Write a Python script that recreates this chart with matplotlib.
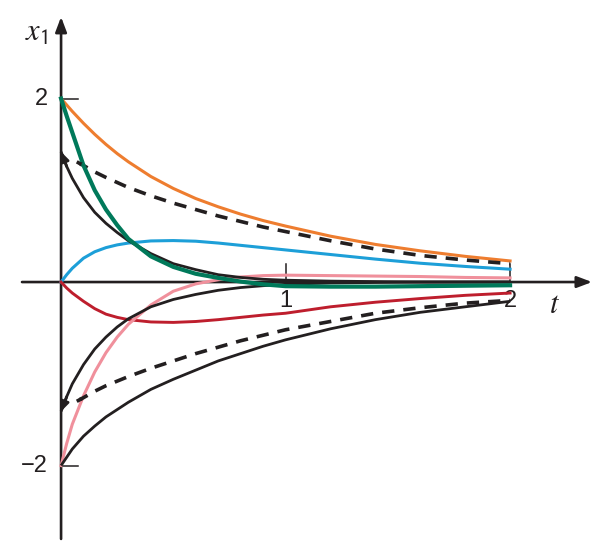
import numpy as np
import matplotlib
matplotlib.use('Agg')
import matplotlib.pyplot as plt

# === Data ===
t = [0.0, 0.025, 0.05, 0.1, 0.15, 0.2, 0.25, 0.3, 0.4, 0.5, 0.6, 0.7, 0.8, 0.9, 1.0, 1.2, 1.4, 1.6, 1.8, 2.0]

orange = [2.0, 1.93, 1.86, 1.73, 1.61, 1.50, 1.40, 1.31, 1.15, 1.02, 0.91, 0.82, 0.74, 0.67, 0.61, 0.50, 0.41, 0.34, 0.28, 0.23]
green = [2.0, 1.81, 1.63, 1.27, 1.0, 0.79, 0.62, 0.47, 0.28, 0.165, 0.09, 0.045, 0.005, -0.025, -0.045, -0.05, -0.05, -0.045, -0.04, -0.035]
blue = [0.0, 0.08, 0.15, 0.26, 0.33, 0.375, 0.405, 0.425, 0.448, 0.452, 0.445, 0.425, 0.40, 0.375, 0.35, 0.30, 0.25, 0.205, 0.17, 0.14]
red = [0.0, -0.065, -0.12, -0.21, -0.29, -0.35, -0.385, -0.41, -0.435, -0.44, -0.43, -0.41, -0.385, -0.36, -0.34, -0.27, -0.22, -0.18, -0.145, -0.12]
pink = [-2.0, -1.76, -1.55, -1.24, -0.98, -0.77, -0.60, -0.46, -0.25, -0.10, -0.02, 0.025, 0.055, 0.07, 0.075, 0.07, 0.065, 0.06, 0.05, 0.045]

black_up = [1.42, 1.26, 1.13, 0.92, 0.76, 0.64, 0.54, 0.45, 0.31, 0.20, 0.135, 0.08, 0.05, 0.03, 0.02, 0.01, 0.005, 0.0, 0.0, 0.0]
black_mid = [-1.41, -1.25, -1.11, -0.90, -0.73, -0.60, -0.49, -0.40, -0.27, -0.19, -0.135, -0.09, -0.06, -0.04, -0.025, -0.01, -0.005, 0.0, 0.0, 0.0]
black_low = [-2.0, -1.91, -1.82, -1.68, -1.57, -1.47, -1.39, -1.31, -1.17, -1.06, -0.96, -0.86, -0.78, -0.70, -0.63, -0.51, -0.41, -0.33, -0.27, -0.21]

t_dash = [0.07, 0.1, 0.15, 0.2, 0.3, 0.4, 0.5, 0.6, 0.7, 0.8, 0.9, 1.0, 1.2, 1.4, 1.6, 1.8, 2.0]
dash_up = [1.31, 1.27, 1.20, 1.14, 1.03, 0.94, 0.86, 0.79, 0.72, 0.66, 0.60, 0.55, 0.45, 0.36, 0.29, 0.24, 0.20]
dash_low = [-1.30, -1.26, -1.19, -1.13, -1.03, -0.94, -0.86, -0.78, -0.71, -0.64, -0.58, -0.52, -0.43, -0.34, -0.28, -0.23, -0.20]

y_ticks = [2, -2]
t_ticks = [1, 2]

ORANGE = '#EE7D2F'
GREEN = '#00795A'
BLUE = '#1D9FD8'
RED = '#BE1E2D'
PINK = '#F0909C'
BLACK = '#231F20'


def head(ax, xs, ys, color, lw, size):
    # arrowhead at the first point of a curve, pointing back toward t=0
    ax.annotate('', xy=(xs[0], ys[0]), xytext=(xs[1], ys[1]),
                arrowprops=dict(arrowstyle='-|>,head_length=0.45,head_width=0.2',
                                color=color, lw=lw, mutation_scale=size,
                                shrinkA=0, shrinkB=0), zorder=6)


def main():
    plt.rcParams['mathtext.fontset'] = 'stix'
    fig = plt.figure(figsize=(6.01, 5.46), dpi=100)
    ax = fig.add_axes([0, 0, 1, 1])
    ax.set_xlim(-0.272, 2.405)
    ax.set_ylim(-2.877, 3.074)
    ax.axis('off')

    # axes with arrows
    axis_style = dict(arrowstyle='-|>,head_length=0.45,head_width=0.17',
                      color=BLACK, lw=1.9, mutation_scale=20, shrinkA=0, shrinkB=0)
    ax.annotate('', xy=(2.365, 0), xytext=(-0.174, 0), arrowprops=axis_style, zorder=2)
    ax.annotate('', xy=(0, 2.89), xytext=(0, -2.80), arrowprops=axis_style, zorder=2)

    for v in y_ticks:
        ax.plot([0, 0.075], [v, v], color=BLACK, lw=1.1, zorder=2)
        ax.text(-0.058, v, '\u2212%d' % -v if v < 0 else str(v), ha='right', va='center',
                fontsize=17, family='Liberation Sans', color=BLACK)
    for v in t_ticks:
        ax.plot([v, v], [0, 0.2], color=BLACK, lw=1.1, zorder=2)
        ax.text(v, -0.09, str(v), ha='center', va='top',
                fontsize=17, family='Liberation Sans', color=BLACK)

    ax.text(2.2, -0.09, r'$t$', ha='center', va='top', fontsize=22, color=BLACK)
    ax.text(-0.06, 2.88, r'$x_{\mathsf{1}}$', ha='right', va='top', fontsize=22, color=BLACK)

    # curves
    ax.plot(t, blue, color=BLUE, lw=2.2, zorder=3)
    ax.plot(t, red, color=RED, lw=2.1, zorder=3)
    ax.plot(t, pink, color=PINK, lw=2.2, zorder=3)
    ax.plot(t, orange, color=ORANGE, lw=2.2, zorder=3)

    for ys in (black_up, black_mid, black_low):
        ax.plot(t, ys, color=BLACK, lw=2.0, zorder=4, solid_capstyle='butt')
    head(ax, t, black_up, BLACK, 2.0, 12)
    head(ax, t, black_mid, BLACK, 2.0, 12)

    for ys in (dash_up, dash_low):
        ax.plot(t_dash, ys, color=BLACK, lw=2.6, dashes=(3.4, 2.5), zorder=5)
        head(ax, t_dash, ys, BLACK, 0.1, 8)

    ax.plot(t, green, color=GREEN, lw=3.0, zorder=5)

    fig.savefig('out.png', dpi=100)
    plt.close(fig)


if __name__ == '__main__':
    main()
